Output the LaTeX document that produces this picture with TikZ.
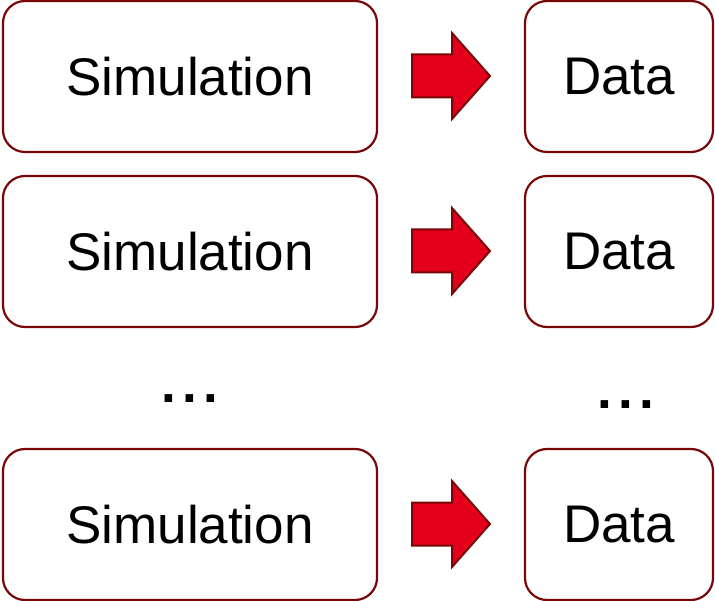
\documentclass[tikz,border=0pt]{standalone}
\usepackage{fontspec}
\setmainfont{Liberation Sans}
\definecolor{boxline}{RGB}{120,8,8}
\definecolor{arrowred}{RGB}{228,0,28}
\begin{document}
\begin{tikzpicture}[x=1pt,y=-1pt,
  every node/.style={font=\fontsize{53}{60}\selectfont, text=black},
  simbox/.style={draw=boxline, line width=2.2pt, rounded corners=22pt, fill=white,
    minimum width=374pt, minimum height=151pt, inner sep=0pt},
  databox/.style={draw=boxline, line width=2.2pt, rounded corners=22pt, fill=white,
    minimum width=188pt, minimum height=151pt, inner sep=0pt},
  blockarrow/.style={draw=boxline, line width=2pt, fill=arrowred, line join=miter},
  dots/.style={anchor=base, inner sep=0pt, font=\fontsize{53}{60}\selectfont\bfseries}]
\useasboundingbox (0,0) rectangle (715,601);

% block arrow drawn around a centre coordinate
\newcommand\blockarrowat[1]{%
  \draw[blockarrow] (#1) ++(-39,-21.5) -- ++(40,0) -- ++(0,-21.5) -- ++(38,43)
    -- ++(-38,43) -- ++(0,-21.5) -- ++(-40,0) -- cycle;}
\newcommand\spreaddots{.\kern6.5pt.\kern6.5pt.}

% first row
\node[simbox]  (s1) at (190,76.5) {Simulation};
\node[databox] (d1) at (619,76.5) {Data};
\coordinate (a1) at (451,76);
\blockarrowat{a1}

% second row
\node[simbox]  (s2) at (190,251.5) {Simulation};
\node[databox] (d2) at (619,251.5) {Data};
\coordinate (a2) at (451,251);
\blockarrowat{a2}

% ellipses between rows
\node[dots] (e1) at (190,403) {\spreaddots};
\node[dots] (e2) at (626,409) {\spreaddots};

% last row
\node[simbox]  (s3) at (190,524.5) {Simulation};
\node[databox] (d3) at (619,524.5) {Data};
\coordinate (a3) at (451,524);
\blockarrowat{a3}
\end{tikzpicture}
\end{document}
